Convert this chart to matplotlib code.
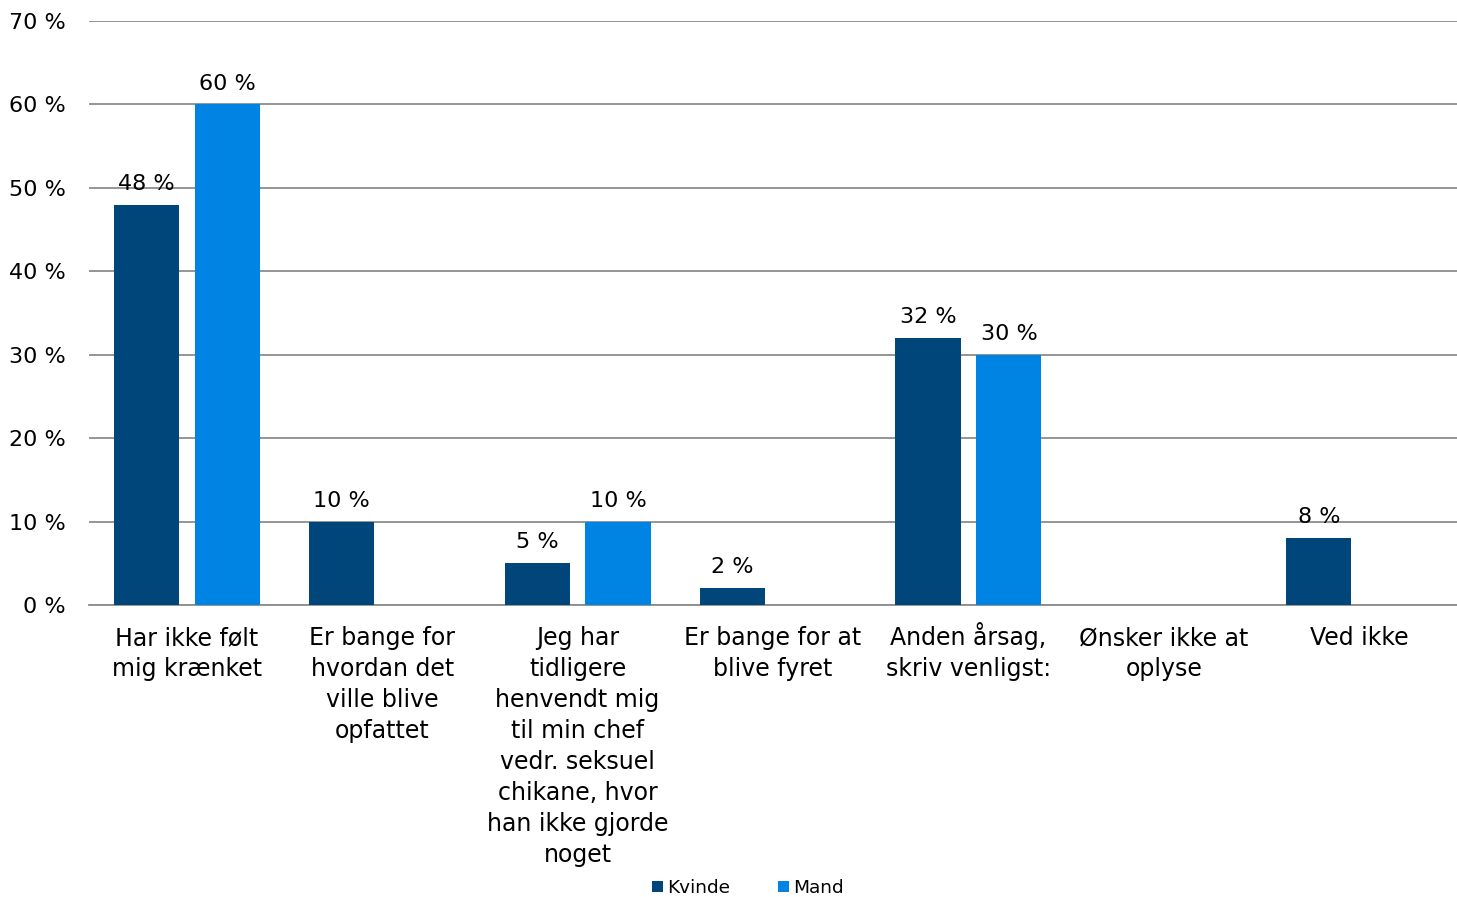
import numpy as np
import matplotlib.pyplot as plt
from matplotlib.transforms import offset_copy

plt.rcParams['font.family'] = ['DejaVu Sans']

categories = ['Har ikke følt\nmig krænket',
              'Er bange for\nhvordan det\nville blive\nopfattet',
              'Jeg har\ntidligere\nhenvendt mig\ntil min chef\nvedr. seksuel\nchikane, hvor\nhan ikke gjorde\nnoget',
              'Er bange for at\nblive fyret',
              'Anden årsag,\nskriv venligst:',
              'Ønsker ikke at\noplyse',
              'Ved ikke']
kvinde = [48, 10, 5, 2, 32, 0, 8]
mand = [60, 0, 10, 0, 30, 0, 0]
yticks = [0, 10, 20, 30, 40, 50, 60, 70]

c_kvinde = '#00467a'
c_mand = '#0084e3'

fig = plt.figure(figsize=(14.57, 8.97), dpi=100)
ax = fig.add_axes([89 / 1457, 1 - 605 / 897, 1368 / 1457, 584 / 897])

x = np.arange(len(categories))
w = 0.333
off = 0.207
b1 = ax.bar(x - off, kvinde, w, color=c_kvinde, label='Kvinde', zorder=3)
b2 = ax.bar(x + off, mand, w, color=c_mand, label='Mand', zorder=3)

for bars, vals in ((b1, kvinde), (b2, mand)):
    for b, v in zip(bars, vals):
        if v > 0:
            ax.text(b.get_x() + b.get_width() / 2, v + 1.3, f'{v} %',
                    ha='center', va='bottom', fontsize=16)

ax.set_xlim(-0.5, len(categories) - 0.5)
ax.set_ylim(0, 70)
ax.set_yticks(yticks)
ax.set_yticklabels([f'{t} %' for t in yticks], fontsize=16)
ax.set_xticks(x)
ax.set_xticklabels([])
ax.tick_params(axis='both', length=0)
ax.tick_params(axis='y', pad=17)

# category labels, one line at a time so every first line sits on the same baseline
for xi, cat in zip(x, categories):
    for i, line in enumerate(cat.split('\n')):
        tr = offset_copy(ax.get_xaxis_transform(), fig=fig, y=-(40 + 31 * i), units='dots')
        ax.text(xi, 0, line, transform=tr, ha='center', va='baseline', fontsize=17)

ax.yaxis.grid(True, color='#8c8c8c', lw=1.3, zorder=0)
for s in ['left', 'right', 'top']:
    ax.spines[s].set_visible(False)
ax.spines['bottom'].set_color('#8c8c8c')
ax.spines['bottom'].set_linewidth(1.3)

fig.legend(handles=[b1, b2], loc='center', bbox_to_anchor=(748 / 1457, 1 - 888 / 897),
           ncol=2, frameon=False, fontsize=13.3, handlelength=0.6, handleheight=0.6,
           handletextpad=0.2, columnspacing=2.6)

fig.savefig('out.png', dpi=100)
